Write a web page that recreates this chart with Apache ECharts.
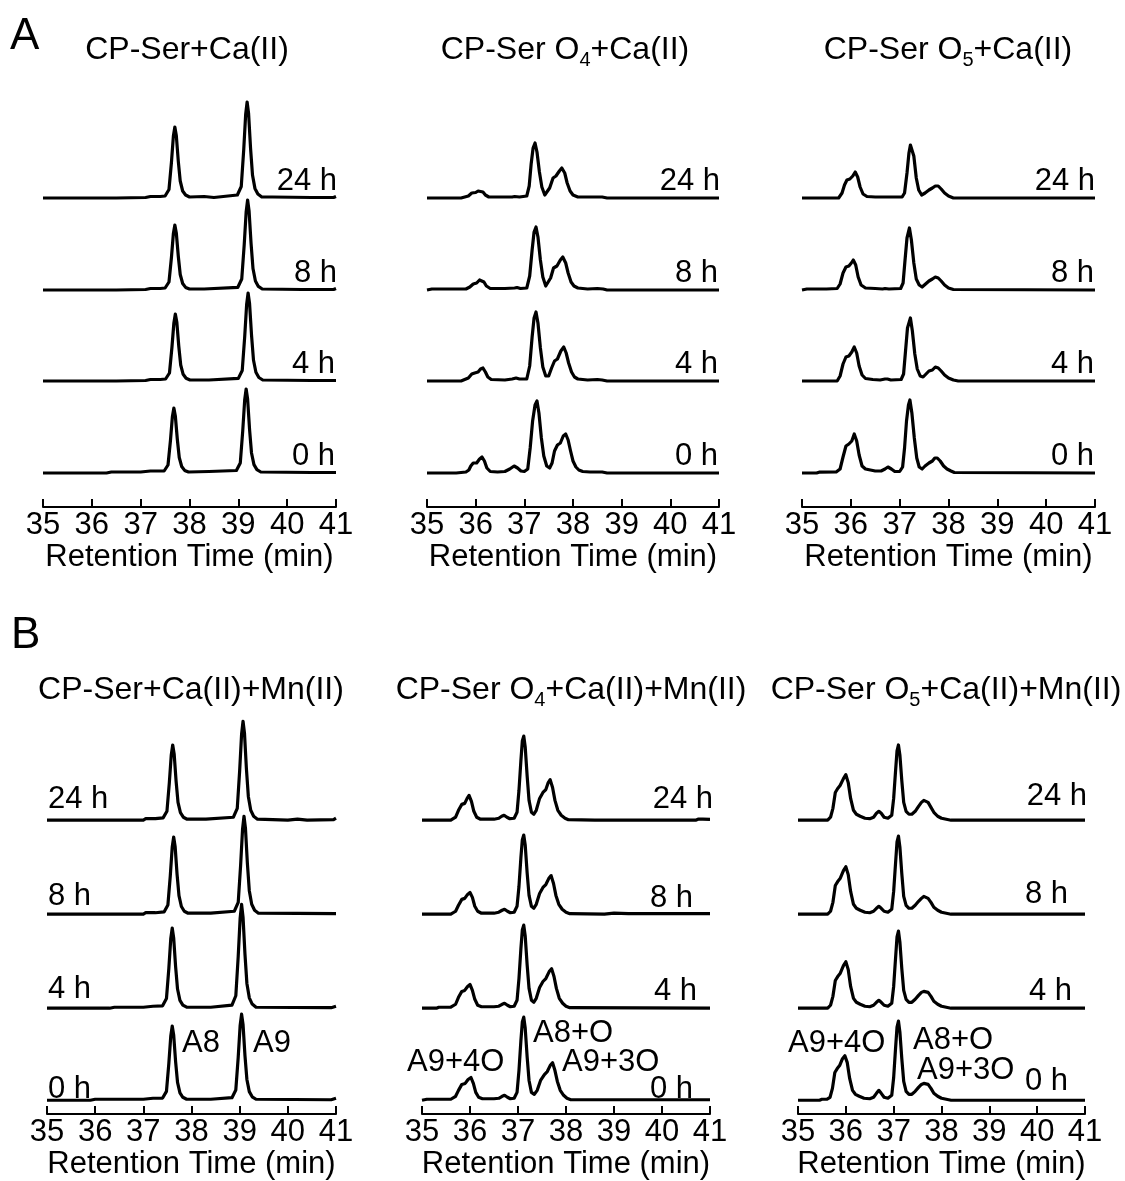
<!DOCTYPE html>
<html><head><meta charset="utf-8">
<script src="https://cdn.jsdelivr.net/npm/echarts@6/dist/echarts.min.js"></script>
<style>html,body{margin:0;padding:0;background:#fff}#c{width:1125px;height:1181px}</style>
</head><body><div id="c"></div>
<script>
// ---------- DATA (retention time min, intensity) ----------
const timeLabels = ['24 h', '8 h', '4 h', '0 h'];
const xTicks = [35, 36, 37, 38, 39, 40, 41];
const panelTitlesA = ['CP-Ser+Ca(II)', 'CP-Ser O4+Ca(II)', 'CP-Ser O5+Ca(II)'];
const panelTitlesB = ['CP-Ser+Ca(II)+Mn(II)', 'CP-Ser O4+Ca(II)+Mn(II)', 'CP-Ser O5+Ca(II)+Mn(II)'];
const peakNamesB1 = ['A8', 'A9'];
const peakNamesB2 = ['A9+4O', 'A8+O', 'A9+3O'];
const peakNamesB3 = ['A9+4O', 'A8+O', 'A9+3O'];

// Panel A1: CP-Ser + Ca(II)
const A1_24 = [[35,0],[36.5,0],[37.1,0.5],[37.2,1.5],[37.4,1.5],[37.5,2],[37.58,8.5],[37.63,35.5],[37.67,62],[37.70,71],[37.73,62.5],[37.77,37],[37.81,17],[37.86,7],[37.92,3],[38.0,1],[38.3,1.5],[38.5,0.5],[38.98,3],[39.06,11.5],[39.11,48],[39.15,83.5],[39.18,96],[39.21,84.5],[39.25,50],[39.29,23],[39.34,9.6],[39.40,4],[39.48,1],[39.7,1],[40.5,0.5],[40.95,0.5],[41,1.5]];
const A1_8 = [[35,0],[36.5,0],[37.1,0.5],[37.2,1.5],[37.4,1.5],[37.50,2],[37.58,8],[37.63,32.5],[37.67,56.5],[37.70,65],[37.73,57],[37.77,34],[37.81,15.5],[37.86,6.5],[37.92,2.6],[38.0,1],[38.3,1],[38.99,2.7],[39.07,11],[39.12,45],[39.16,78],[39.19,90],[39.22,79],[39.26,47],[39.30,21.5],[39.35,9],[39.41,3.6],[39.49,1],[40.3,0.5],[40.95,0.5],[41,1.5]];
const A1_4 = [[35,0],[36.5,0],[37.1,0.5],[37.2,1.5],[37.4,1.5],[37.51,2],[37.59,8],[37.64,33.5],[37.68,58],[37.71,67],[37.74,59],[37.78,35],[37.82,16],[37.87,6.7],[37.93,2.7],[38.01,1],[38.4,1],[39.00,2.6],[39.08,10.5],[39.13,44],[39.17,76.5],[39.20,88],[39.23,77.5],[39.27,46],[39.31,21],[39.36,8.8],[39.42,3.5],[39.50,1],[40.5,0.5],[41,0.5]];
const A1_0 = [[35,0],[36.3,0],[36.4,1],[37.0,1],[37.2,2],[37.48,2],[37.56,8],[37.61,32.5],[37.65,56.5],[37.68,65],[37.71,57],[37.75,34],[37.79,15.5],[37.84,6.5],[37.90,2.6],[37.98,1],[38.4,1.5],[38.96,2.5],[39.04,10],[39.09,42],[39.13,73],[39.16,84],[39.19,74],[39.23,43.5],[39.27,20],[39.32,8.4],[39.38,3.4],[39.46,1],[40.5,0.5],[41,0.5]];

// Panel A2: CP-Ser O4 + Ca(II)
const A2_24 = [[35,0],[35.7,0],[35.85,2],[35.92,5],[36.0,5.5],[36.05,7],[36.09,8],[36.15,6],[36.2,3],[36.27,1],[36.5,1],[36.75,1],[36.8,1.5],[36.9,1],[37.05,2],[37.1,12],[37.14,34],[37.18,50],[37.22,55],[37.26,46],[37.31,26],[37.36,11],[37.42,3],[37.46,3],[37.52,10],[37.59,20],[37.65,22],[37.72,27],[37.77,30],[37.83,25],[37.88,15],[37.94,7],[38.0,3],[38.1,1],[38.4,1],[38.6,1],[38.7,0],[41,0]];
const A2_8 = [[35,0],[35.1,1],[35.5,1],[35.8,1],[35.88,3],[35.95,6],[36.02,7],[36.08,10],[36.12,11],[36.17,8],[36.22,4],[36.3,1.5],[36.6,1.5],[36.8,2],[36.85,2.5],[36.92,1.5],[37.05,2],[37.11,14],[37.16,40],[37.2,58],[37.24,63],[37.28,53],[37.33,30],[37.38,13],[37.44,4],[37.48,4],[37.54,12],[37.6,22],[37.67,24],[37.74,30],[37.79,33],[37.85,27],[37.9,17],[37.96,8],[38.02,4],[38.1,2],[38.3,1],[38.5,1.5],[38.62,1],[38.7,0],[41,0]];
const A2_4 = [[35,0],[35.7,0],[35.85,3],[35.92,7],[35.98,8],[36.05,9],[36.1,12],[36.15,13],[36.2,9],[36.25,4],[36.32,1.5],[36.6,1],[36.75,2],[36.83,3],[36.9,2],[37.05,2],[37.11,15],[37.16,44],[37.2,63],[37.24,69],[37.28,58],[37.33,33],[37.38,14],[37.44,5],[37.5,5],[37.56,13],[37.62,20],[37.68,22],[37.75,30],[37.81,34],[37.86,28],[37.91,18],[37.97,9],[38.03,4],[38.1,2],[38.3,1],[38.5,1.5],[38.6,1],[38.7,0],[41,0]];
const A2_0 = [[35,0],[35.6,0],[35.62,1],[35.8,1],[35.86,3],[35.9,7],[35.95,10],[36.02,10],[36.08,14],[36.13,16],[36.18,12],[36.23,5],[36.3,1.5],[36.45,1],[36.6,1.5],[36.7,4],[36.79,7],[36.86,5],[36.93,2],[37.0,1.5],[37.07,4],[37.12,25],[37.17,52],[37.22,68],[37.26,72],[37.3,60],[37.35,35],[37.4,17],[37.46,7],[37.52,5],[37.57,10],[37.62,22],[37.68,28],[37.74,30],[37.8,37],[37.85,39],[37.9,33],[37.95,22],[38.0,12],[38.06,6],[38.12,3],[38.2,1.5],[38.35,1],[38.6,1],[38.7,0],[41,0]];

// Panel A3: CP-Ser O5 + Ca(II)
const A3_24 = [[35,0],[35.75,0],[35.82,5],[35.87,13],[35.92,18],[35.98,19],[36.04,22],[36.09,26],[36.14,21],[36.19,11],[36.25,4],[36.33,1.5],[36.5,1],[37.05,1],[37.1,5],[37.15,25],[37.19,45],[37.22,53],[37.25,55],[37.29,42],[37.34,20],[37.39,8],[37.45,3],[37.52,5],[37.6,8],[37.67,10],[37.73,12],[37.79,12],[37.85,9],[37.92,5],[38.0,2],[38.1,0],[41,0]];
const A3_8 = [[35,0],[35.1,1],[35.2,1],[35.5,1],[35.72,1.5],[35.78,6],[35.84,17],[35.9,23],[35.96,24],[36.01,27],[36.05,30],[36.1,25],[36.15,13],[36.21,5],[36.3,2],[36.5,1.5],[36.65,1],[36.7,1.5],[36.78,1],[37.02,1.5],[37.07,7],[37.11,30],[37.15,52],[37.2,62],[37.24,50],[37.29,27],[37.34,11],[37.4,5],[37.46,3],[37.53,6],[37.6,9],[37.67,11],[37.73,13],[37.79,12],[37.85,9],[37.92,5],[38.0,2],[38.1,0.5],[41,0]];
const A3_4 = [[35,0],[35.72,0],[35.78,5],[35.84,17],[35.9,24],[35.96,25],[36.02,29],[36.07,34],[36.12,28],[36.17,15],[36.23,6],[36.3,2.5],[36.45,1.5],[36.6,1],[36.7,2],[36.75,2],[36.82,1],[37.03,1.5],[37.08,7],[37.12,30],[37.16,53],[37.22,63],[37.26,50],[37.31,27],[37.36,12],[37.42,5],[37.48,4],[37.54,7],[37.6,10],[37.67,11],[37.73,14],[37.79,13],[37.85,10],[37.92,6],[38.0,3],[38.1,1],[38.2,0],[41,0]];
const A3_0 = [[35,0],[35.3,0],[35.35,0.8],[35.7,1],[35.78,4],[35.84,16],[35.9,27],[35.96,29],[36.02,32],[36.07,39],[36.12,32],[36.17,18],[36.23,7],[36.3,4],[36.4,3],[36.5,2],[36.62,2],[36.7,4],[36.76,6],[36.83,4],[36.9,1.5],[37.0,1.5],[37.06,6],[37.1,25],[37.14,52],[37.18,68],[37.21,73],[37.25,60],[37.3,35],[37.35,15],[37.4,6],[37.46,4],[37.52,7],[37.6,10],[37.67,12],[37.72,15],[37.77,15],[37.83,12],[37.9,7],[37.97,4],[38.05,2],[38.12,0.5],[41,0]];

// Panel B1: CP-Ser + Ca(II) + Mn(II)
const B1_24 = [[35,0],[37.0,0],[37.05,1.5],[37.25,1.5],[37.41,2.3],[37.49,9],[37.54,38],[37.58,66],[37.61,76],[37.64,67],[37.68,39.5],[37.72,18],[37.77,7.6],[37.83,3],[37.91,1],[38.3,1],[38.87,3],[38.95,12],[39.00,50],[39.04,87],[39.07,100],[39.10,88],[39.14,52],[39.18,24],[39.23,10],[39.29,4],[39.37,1],[40.0,0],[40.2,1],[40.4,0],[40.95,0.5],[41,2]];
const B1_8 = [[35,0],[37.0,0],[37.05,1.5],[37.25,1.5],[37.43,2.3],[37.51,9.4],[37.56,39],[37.60,68],[37.63,78],[37.66,68.5],[37.70,40.5],[37.74,18.7],[37.79,7.8],[37.85,3],[37.93,1],[38.4,1],[38.89,3],[38.97,12],[39.02,49.5],[39.06,86],[39.09,99],[39.12,87],[39.16,51.5],[39.20,23.8],[39.25,10],[39.31,4],[39.39,1],[41,0.5]];
const B1_4 = [[35,0],[36.3,0],[36.4,1],[37.0,1],[37.2,2],[37.40,2.4],[37.48,9.7],[37.53,40.5],[37.57,70.5],[37.60,81],[37.63,71],[37.67,42],[37.71,19.4],[37.76,8],[37.82,3.2],[37.90,1],[38.4,1],[38.84,3.2],[38.92,12.6],[38.97,52.5],[39.01,91],[39.04,105],[39.07,92],[39.11,54.6],[39.15,25],[39.20,10.5],[39.26,4.2],[39.34,1],[40.9,0.5],[41,2]];
const B1_0 = [[35,0],[35.9,0],[36.0,1],[37.0,1],[37.2,2],[37.40,2.2],[37.48,9],[37.53,37.5],[37.57,65],[37.60,75],[37.63,66],[37.67,39],[37.71,18],[37.76,7.5],[37.82,3],[37.90,1],[38.4,1],[38.84,2.6],[38.92,10.4],[38.97,43.5],[39.01,75.7],[39.04,87],[39.07,76.6],[39.11,45],[39.15,21],[39.20,8.7],[39.26,3.5],[39.34,1],[40.9,0.5],[41,2]];

// Panel B2: CP-Ser O4 + Ca(II) + Mn(II)
const B2_24 = [[35,0],[35.6,0],[35.7,3],[35.76,10],[35.83,16],[35.89,17],[35.94,22],[35.98,25],[36.03,19],[36.08,9],[36.14,3],[36.22,1],[36.5,1],[36.6,2],[36.66,4],[36.71,5],[36.77,3],[36.83,1.5],[36.92,2],[36.98,8],[37.02,30],[37.06,60],[37.09,80],[37.12,85],[37.15,74],[37.19,45],[37.23,20],[37.28,8],[37.33,6],[37.38,10],[37.45,22],[37.52,28],[37.58,31],[37.63,38],[37.67,41],[37.72,33],[37.77,20],[37.83,10],[37.9,5],[37.98,2],[38.05,0.5],[38.6,0],[40.7,0],[40.75,1],[40.85,1],[41,0.8]];
const B2_8 = [[35,0],[35.6,0],[35.7,3],[35.76,9],[35.83,15],[35.89,16],[35.95,20],[36.0,22],[36.05,17],[36.1,8],[36.16,3],[36.24,1],[36.5,1],[36.6,2],[36.67,4],[36.72,5],[36.78,3],[36.84,1.5],[36.92,2],[36.98,8],[37.02,28],[37.06,57],[37.09,75],[37.12,80],[37.15,70],[37.19,42],[37.23,19],[37.28,8],[37.33,6],[37.38,10],[37.45,21],[37.52,27],[37.58,30],[37.64,36],[37.69,39],[37.74,31],[37.79,19],[37.85,10],[37.92,5],[38.0,2],[38.08,0.5],[38.8,0],[39.0,1],[39.3,0.5],[41,0.5]];
const B2_4 = [[35,0],[35.3,0],[35.35,1],[35.6,1],[35.7,4],[35.76,11],[35.83,17],[35.89,18],[35.95,22],[36.0,24],[36.05,18],[36.1,9],[36.16,3],[36.24,1.5],[36.5,1.5],[36.6,2],[36.67,4],[36.72,5],[36.78,3],[36.84,1.5],[36.92,2],[36.98,8],[37.02,30],[37.06,60],[37.09,79],[37.12,84],[37.15,73],[37.19,44],[37.23,20],[37.28,8],[37.33,6],[37.38,10],[37.45,21],[37.52,27],[37.58,30],[37.65,37],[37.7,40],[37.75,32],[37.8,20],[37.86,10],[37.93,5],[38.0,2],[38.08,0.5],[41,0]];
const B2_0 = [[35,0],[35.1,1],[35.6,1],[35.7,4],[35.76,10],[35.83,16],[35.9,17],[35.96,21],[36.02,23],[36.07,17],[36.12,8],[36.18,3],[36.26,1.5],[36.5,1.5],[36.6,2],[36.67,4],[36.72,5],[36.78,3],[36.84,1.5],[36.92,2],[36.98,8],[37.02,30],[37.06,60],[37.09,79],[37.12,84],[37.15,73],[37.19,44],[37.23,20],[37.28,8],[37.34,6],[37.4,10],[37.47,20],[37.55,26],[37.61,29],[37.67,35],[37.72,38],[37.77,30],[37.82,19],[37.88,10],[37.95,5],[38.02,2],[38.1,0.5],[41,0.5]];

// Panel B3: CP-Ser O5 + Ca(II) + Mn(II)
const B3_24 = [[35,0],[35.62,0],[35.68,3],[35.73,12],[35.78,28],[35.83,32],[35.88,35],[35.95,42],[36.0,46],[36.05,38],[36.1,22],[36.16,10],[36.22,6],[36.3,4],[36.4,2],[36.5,1.5],[36.58,3],[36.64,7],[36.69,9],[36.74,7],[36.8,3],[36.88,2],[36.96,5],[37.0,22],[37.04,50],[37.07,70],[37.1,76],[37.13,66],[37.17,40],[37.21,18],[37.26,9],[37.32,6],[37.38,6],[37.45,9],[37.52,14],[37.58,18],[37.63,20],[37.67,21],[37.72,18],[37.78,13],[37.84,8],[37.92,4],[38.0,2],[38.1,1],[38.2,0],[41,0]];
const B3_8 = [[35,0],[35.62,0],[35.68,3],[35.73,12],[35.78,29],[35.83,33],[35.88,36],[35.95,44],[36.0,48],[36.05,40],[36.1,23],[36.16,10],[36.22,6],[36.3,4],[36.4,2],[36.5,1.5],[36.58,3],[36.64,6],[36.69,8],[36.74,6],[36.8,3],[36.88,2],[36.96,5],[37.0,23],[37.04,52],[37.07,73],[37.1,79],[37.13,68],[37.17,41],[37.21,18],[37.26,9],[37.32,6],[37.38,6],[37.45,9],[37.52,13],[37.58,16],[37.63,18],[37.67,19],[37.72,16],[37.78,12],[37.84,7],[37.92,4],[38.0,2],[38.1,1],[38.2,0],[41,0]];
const B3_4 = [[35,0],[35.62,0],[35.68,3],[35.73,12],[35.78,28],[35.83,32],[35.88,35],[35.95,43],[36.0,47],[36.05,39],[36.1,22],[36.16,10],[36.22,6],[36.3,4],[36.4,2],[36.5,1.5],[36.58,3],[36.64,6],[36.69,8],[36.74,6],[36.8,3],[36.88,2],[36.96,5],[37.0,22],[37.04,51],[37.07,72],[37.1,78],[37.13,67],[37.17,40],[37.21,18],[37.26,9],[37.32,6],[37.38,6],[37.45,9],[37.52,13],[37.58,16],[37.63,17],[37.67,18],[37.72,16],[37.78,12],[37.84,7],[37.92,4],[38.0,2],[38.1,1],[38.2,0],[41,0]];
const B3_0 = [[35,0],[35.45,0],[35.5,1],[35.6,1],[35.67,3],[35.72,12],[35.77,28],[35.82,32],[35.87,35],[35.93,42],[35.98,45],[36.03,38],[36.08,22],[36.14,10],[36.2,6],[36.28,4],[36.38,2],[36.5,1.5],[36.58,3],[36.64,7],[36.69,10],[36.74,7],[36.8,3],[36.88,2],[36.96,5],[37.0,23],[37.04,53],[37.07,74],[37.1,80],[37.13,69],[37.17,42],[37.21,19],[37.26,9],[37.32,6],[37.38,6],[37.45,9],[37.52,13],[37.58,16],[37.63,17],[37.67,18],[37.72,16],[37.78,12],[37.84,7],[37.92,4],[38.0,2],[38.1,1],[38.2,0],[41,0]];

// ---------- LAYOUT ----------
const FONT = 'Liberation Sans, Arial, Helvetica, sans-serif';
const OFF_A = [309, 217, 126, 34];   // vertical stacking of traces (24h, 8h, 4h, 0h)
const OFF_B = [297, 202, 107, 14];
const panels = [
  {grid:{left:43, top:37, width:293, height:470}, traces:[A1_24,A1_8,A1_4,A1_0], off:OFF_A, gap:30},
  {grid:{left:427, top:37, width:292, height:470}, traces:[A2_24,A2_8,A2_4,A2_0], off:OFF_A, gap:30},
  {grid:{left:802, top:37, width:293, height:470}, traces:[A3_24,A3_8,A3_4,A3_0], off:OFF_A, gap:30},
  {grid:{left:47, top:649, width:289, height:470}, traces:[B1_24,B1_8,B1_4,B1_0], off:OFF_B, gap:33},
  {grid:{left:422, top:649, width:288, height:470}, traces:[B2_24,B2_8,B2_4,B2_0], off:OFF_B, gap:33},
  {grid:{left:798, top:649, width:287, height:470}, traces:[B3_24,B3_8,B3_4,B3_0], off:OFF_B, gap:33}
];
// hour-label anchor points [x, y, align]
const hourPos = [
  [[337,181.5,'right'],[337,273.5,'right'],[335,364.5,'right'],[335,456.5,'right']],
  [[720,181.5,'right'],[718,273.5,'right'],[718,364.5,'right'],[718,456.5,'right']],
  [[1095,181.5,'right'],[1094,273.5,'right'],[1094,364.5,'right'],[1094,456.5,'right']],
  [[48,799.5,'left'],[48,896.5,'left'],[48,989.5,'left'],[48,1089.5,'left']],
  [[713,799.5,'right'],[693,898.5,'right'],[697,991.5,'right'],[693,1089.5,'right']],
  [[1087,796.5,'right'],[1068,894.5,'right'],[1072,991.5,'right'],[1068,1081.5,'right']]
];
const titlePos = [[187,50],[565,50],[948,50],[191,690],[571,690],[946,690]];
const annPos = [
  [[182,1043],[253,1043]],
  [[407,1062],[533,1033],[562,1062]],
  [[788,1043],[913,1040],[917,1070]]
];

// ---------- BUILD ----------
const grids = [], xAxes = [], yAxes = [], series = [], graphics = [];
panels.forEach((p, pi) => {
  grids.push(p.grid);
  xAxes.push({
    type:'value', gridIndex:pi, min:xTicks[0], max:xTicks[xTicks.length-1], interval:1,
    name:'Retention Time (min)', nameLocation:'middle', nameGap:p.gap,
    nameTextStyle:{fontSize:31, color:'#000', fontFamily:FONT},
    axisLine:{show:true, onZero:false, lineStyle:{color:'#000', width:2}},
    axisTick:{show:true, inside:true, length:8, lineStyle:{color:'#000', width:2}},
    axisLabel:{show:true, margin:3, fontSize:31, color:'#000', fontFamily:FONT, showMinLabel:true, showMaxLabel:true, hideOverlap:false},
    splitLine:{show:false}
  });
  yAxes.push({type:'value', gridIndex:pi, min:0, max:470, show:false});
  p.traces.forEach((tr, ti) => {
    series.push({
      type:'line', xAxisIndex:pi, yAxisIndex:pi, symbol:'none', silent:true, animation:false,
      lineStyle:{color:'#000', width:3.2, join:'round'},
      data: tr.map(d => [d[0], d[1] + p.off[ti]])
    });
    const hp = hourPos[pi][ti];
    graphics.push({type:'text', x:hp[0], y:hp[1], style:{text:timeLabels[ti], fontSize:31, fontFamily:FONT, fill:'#000', align:hp[2], verticalAlign:'middle'}});
  });
});

function titleRich(t) {
  const m = t.match(/^(.*O)([45])(\+.*)$/);
  if (!m) return '{n|' + t + '}';
  return '{n|' + m[1] + '}{s|' + m[2] + '}{n|' + m[3] + '}';
}
const titles = panelTitlesA.concat(panelTitlesB);
titles.forEach((t, i) => {
  graphics.push({type:'text', x:titlePos[i][0], y:titlePos[i][1], style:{
    text:titleRich(t), align:'center', verticalAlign:'middle', fill:'#000',
    rich:{n:{fontSize:32, fontFamily:FONT, fill:'#000', lineHeight:40, verticalAlign:'middle'},
          s:{fontSize:20, fontFamily:FONT, fill:'#000', lineHeight:20, verticalAlign:'bottom'}}
  }});
});
[peakNamesB1, peakNamesB2, peakNamesB3].forEach((names, k) => {
  names.forEach((nm, j) => {
    graphics.push({type:'text', x:annPos[k][j][0], y:annPos[k][j][1], style:{text:nm, fontSize:31, fontFamily:FONT, fill:'#000', align:'left', verticalAlign:'middle'}});
  });
});
graphics.push({type:'text', x:10, y:37, style:{text:'A', fontSize:44, fontFamily:FONT, fill:'#000', align:'left', verticalAlign:'middle'}});
graphics.push({type:'text', x:11, y:636, style:{text:'B', fontSize:44, fontFamily:FONT, fill:'#000', align:'left', verticalAlign:'middle'}});

const chart = echarts.init(document.getElementById('c'), null, {renderer:'canvas'});
chart.setOption({
  backgroundColor:'#fff', animation:false,
  grid:grids, xAxis:xAxes, yAxis:yAxes, series:series, graphic:graphics
});
</script></body></html>
